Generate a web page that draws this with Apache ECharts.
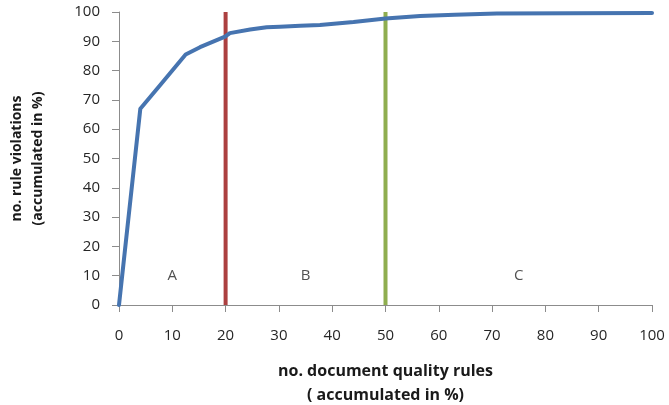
<!DOCTYPE html>
<html>
<head>
<meta charset="utf-8">
<script src="https://cdn.jsdelivr.net/npm/echarts@6/dist/echarts.min.js"></script>
<style>
html,body{margin:0;padding:0;background:#fff;}
#chart{width:669px;height:405px;}
</style>
</head>
<body>
<div id="chart"></div>
<script>
// Cumulative curve: x = document quality rules (accumulated %), y = rule violations (accumulated %)
const curveX = [0, 4, 7.7, 12.5, 15.2, 19.9, 20.8, 24.6, 27.7, 30.2, 34, 37.7, 44, 50, 56.5, 63, 70.9, 85, 100];
const curveY = [0, 67, 75, 85.5, 88, 91.6, 92.8, 94, 94.8, 95, 95.3, 95.6, 96.6, 97.8, 98.6, 99.1, 99.5, 99.6, 99.7];
// Vertical boundaries
const boundaryA_B = 20;
const boundaryB_C = 50;
const boundaryY = [0, 100];
// Region labels
const regionNames = ['A', 'B', 'C'];
const regionX = [10, 35, 75];
const regionY = [10, 10, 10];
// Axis
const xTicks = [0, 10, 20, 30, 40, 50, 60, 70, 80, 90, 100];
const yTicks = [0, 10, 20, 30, 40, 50, 60, 70, 80, 90, 100];

const FONT = '"Open Sans", sans-serif';
const chart = echarts.init(document.getElementById('chart'), null, {renderer: 'canvas'});
const axisCommon = {
  type: 'value', min: 0, max: 100, interval: 10,
  axisLine: {show: true, lineStyle: {color: '#8c8c8c', width: 1}},
  axisTick: {show: true, length: 7, lineStyle: {color: '#8c8c8c'}},
  splitLine: {show: false}
};
chart.setOption({
  animation: false,
  backgroundColor: '#ffffff',
  grid: {left: 119, right: 17, top: 12, bottom: 100, containLabel: false, outerBoundsMode: 'none'},
  xAxis: Object.assign({}, axisCommon, {
    name: 'no. document quality rules\n( accumulated in %)',
    nameLocation: 'middle', nameGap: 54,
    nameTextStyle: {fontFamily: FONT, fontWeight: 'bold', fontSize: 16, color: '#1a1a1a', lineHeight: 24},
    axisLabel: {margin: 23, fontFamily: FONT, fontSize: 15, color: '#262626',
      formatter: v => xTicks.includes(v) ? String(v) : ''}
  }),
  yAxis: Object.assign({}, axisCommon, {
    name: 'no. rule violations\n(accumulated in %)',
    nameLocation: 'middle', nameGap: 70,
    nameTextStyle: {fontFamily: FONT, fontWeight: 'bold', fontSize: 14, color: '#1a1a1a', lineHeight: 21},
    axisLabel: {margin: 19, fontFamily: FONT, fontSize: 15, color: '#262626',
      formatter: v => yTicks.includes(v) ? String(v) : ''}
  }),
  series: [
    {
      type: 'line', z: 3,
      data: boundaryY.map(y => [boundaryA_B, y]),
      symbol: 'none', lineStyle: {color: '#AC4040', width: 4}
    },
    {
      type: 'line', z: 3,
      data: boundaryY.map(y => [boundaryB_C, y]),
      symbol: 'none', lineStyle: {color: '#8FAE4F', width: 4}
    },
    {
      type: 'line', z: 4,
      data: curveX.map((x, i) => [x, curveY[i]]),
      symbol: 'none', smooth: false,
      lineStyle: {color: '#4674B0', width: 4, join: 'round', cap: 'round'}
    },
    {
      type: 'scatter', z: 5,
      data: regionX.map((x, i) => ({value: [x, regionY[i]], name: regionNames[i]})),
      symbolSize: 0,
      label: {show: true, position: 'inside', formatter: p => p.name,
        fontFamily: FONT, fontSize: 15, color: '#262626'}
    }
  ]
});
</script>
</body>
</html>
